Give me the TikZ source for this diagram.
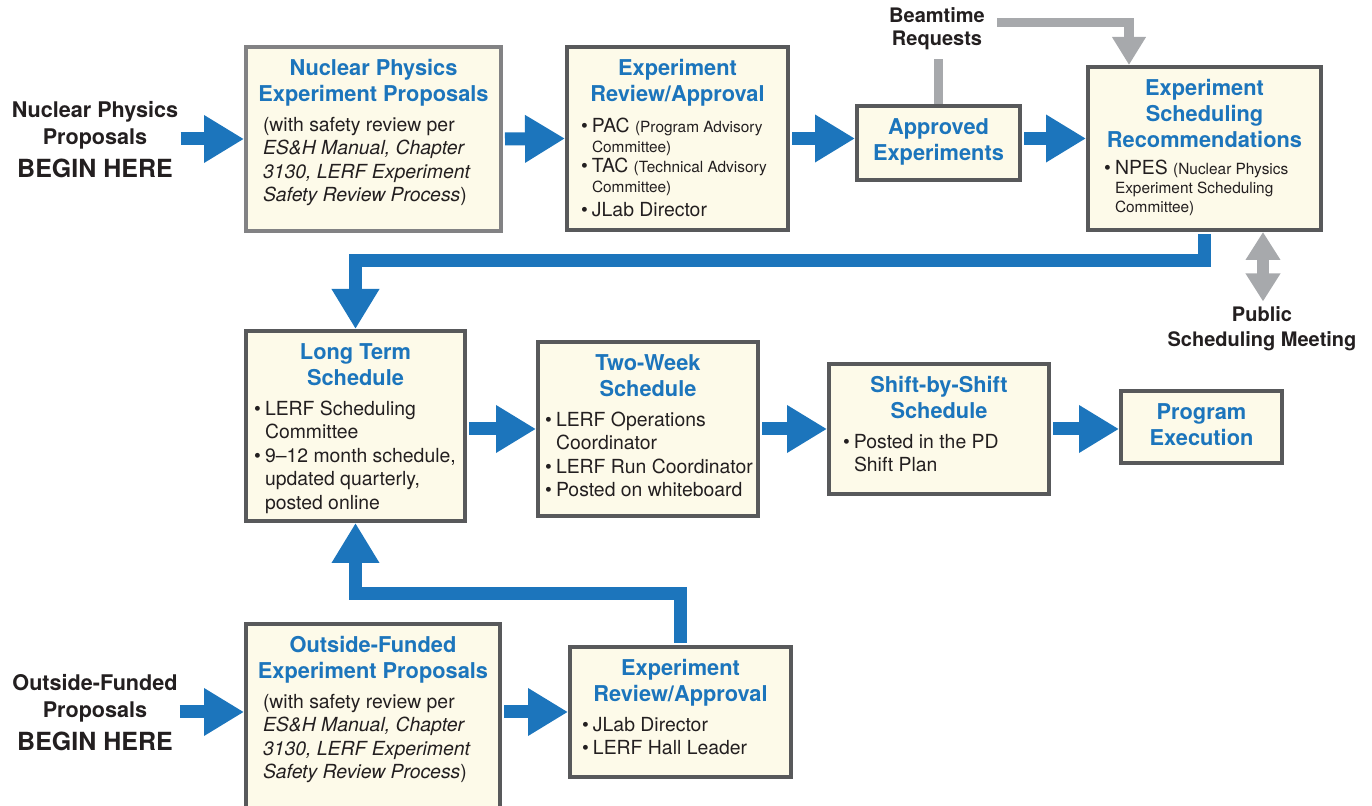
\documentclass[tikz,border=0pt]{standalone}
\usepackage{fontspec}
\setmainfont{TeX Gyre Heros}
\usetikzlibrary{arrows.meta,calc}
\definecolor{flowblue}{RGB}{28,117,188}
\definecolor{feedgray}{RGB}{167,169,172}
\definecolor{boxline}{RGB}{88,89,91}
\definecolor{boxlight}{RGB}{130,130,132}
\definecolor{cream}{RGB}{253,250,233}
\definecolor{labelink}{RGB}{35,31,32}
\tikzstyle{stage}=[draw=boxline,line width=2pt,fill=cream,inner sep=0pt,anchor=north west]
\tikzstyle{startlabel}=[align=center,font=\bfseries\fontsize{10.8}{13.5}\selectfont,text=labelink,inner sep=0pt]
\tikzstyle{feedlabel}=[align=center,font=\bfseries\fontsize{10}{11.5}\selectfont,text=labelink,inner sep=2.5pt]
\tikzstyle{flow}=[draw=flowblue,line width=6.5pt,-{Triangle[width=22.5pt,length=20pt]},line join=miter,shorten <=1pt]
\tikzstyle{feed}=[draw=feedgray,line width=4.75pt,line join=miter]
\tikzstyle{feedarrow}=[feed,-{Triangle[width=16pt,length=14pt]}]
\tikzstyle{bothways}=[draw=feedgray,line width=6pt,{Triangle[width=16.5pt,length=14pt]}-{Triangle[width=16.5pt,length=14pt]}]
% box contents: width, height, left pad, title, body
\newcommand{\stagetext}[5]{%
  \parbox[c][#2][t]{#1}{\centering\bfseries\fontsize{10.9}{13}\selectfont
    \leavevmode\color{flowblue}\rule{0pt}{14.5pt}#4\par\vspace{3pt}%
    \raggedright\leftskip=#3\relax\mdseries\fontsize{9.7}{11.75}\selectfont\color{labelink}#5\par}}
\newcommand{\itm}[1]{\par\hangindent=5.5pt\hangafter=1\noindent\makebox[5.5pt][l]{\textbullet}#1}
\newcommand{\smalltxt}[1]{{\fontsize{7.7}{9}\selectfont #1}}
\begin{document}
\begin{tikzpicture}[x=0.5pt,y=-0.5pt]
    \useasboundingbox (0,0) rectangle (1372,806);
    \clip (0,0) rectangle (1372,806);

    % top row
    \node[stage,draw=boxlight] (prop) at (244,45) {\stagetext{127.5pt}{92pt}{8.5pt}{Nuclear Physics\\Experiment Proposals}{(with safety review per\newline \textit{ES\&H Manual, Chapter\newline 3130, LERF Experiment\newline Safety Review Process})}};
    \node[stage] (review) at (565,45) {\stagetext{110.5pt}{91.5pt}{7pt}{Experiment\\Review/Approval}{\fontsize{9.7}{10}\selectfont\vspace{2.5pt}\itm{PAC \smalltxt{(Program Advisory}\newline\smalltxt{Committee)}}\itm{TAC \smalltxt{(Technical Advisory}\newline\smalltxt{Committee)}}\par\vspace{2pt}\itm{JLab Director}}};
    \node[stage] (approved) at (855,104) {\stagetext{81.5pt}{37pt}{0pt}{Approved\\Experiments}{}};
    \node[stage] (recom) at (1086,65) {\stagetext{116.5pt}{81.5pt}{8pt}{Experiment\\Scheduling\\Recommendations}{\fontsize{9.7}{9.5}\selectfont\vspace{1pt}\itm{NPES \smalltxt{(Nuclear Physics}\newline\smalltxt{Experiment Scheduling}\newline\smalltxt{Committee)}}}};

    % middle row
    \node[stage] (longterm) at (244,329) {\stagetext{109.5pt}{95pt}{4pt}{Long Term\\Schedule}{\itm{LERF Scheduling\newline Committee}\itm{9--12 month schedule,\newline updated quarterly,\newline posted online}}};
    \node[stage] (twoweek) at (536,340) {\stagetext{110pt}{87pt}{3.5pt}{Two-Week\\Schedule}{\itm{LERF Operations\newline Coordinator}\itm{LERF Run Coordinator}\itm{Posted on whiteboard}}};
    \node[stage] (shift) at (827,362) {\stagetext{110pt}{65pt}{7pt}{Shift-by-Shift\\Schedule}{\itm{Posted in the PD\newline Shift Plan}}};
    \node[stage] (exec) at (1119,389) {\stagetext{80.5pt}{36pt}{0pt}{Program\\Execution}{}};

    % bottom row
    \node[stage] (outprop) at (244,622) {\stagetext{127pt}{100pt}{8.5pt}{Outside-Funded\\Experiment Proposals}{(with safety review per\newline \textit{ES\&H Manual, Chapter\newline 3130, LERF Experiment\newline Safety Review Process})}};
    \node[stage] (outreview) at (568,645) {\stagetext{110.5pt}{65pt}{6pt}{Experiment\\Review/Approval}{\itm{JLab Director}\itm{LERF Hall Leader}}};

    % labels
    \node[startlabel] (npstart) at (95,140) {Nuclear Physics\\Proposals\\[3pt]{\fontsize{12.5}{15}\selectfont BEGIN HERE}};
    \node[startlabel] (ofstart) at (95,713) {Outside-Funded\\Proposals\\[3pt]{\fontsize{12.5}{15}\selectfont BEGIN HERE}};
    \node[feedlabel] (beam) at (937,29) {Beamtime\\Requests};
    \node[feedlabel,font=\bfseries\fontsize{10}{12.5}\selectfont] (public) at (1262,329) {Public\\Scheduling Meeting};

    % blue flow
    \draw[flow] (npstart.east |- prop.west) -- (prop.west);
    \draw[flow] (prop.east) -- (review.west);
    \draw[flow] (review.east) -- (review.east -| approved.west);
    \draw[flow] (approved.east |- review.east) -- (recom.west |- review.east);
    \draw[flow] (recom.south) |- ($(longterm.north)+(0,-68)$) -- (longterm.north);
    \draw[flow] (twoweek.west -| longterm.east) -- (twoweek.west);
    \draw[flow] (twoweek.east) -- (shift.west);
    \draw[flow] (shift.east) -- (shift.east -| exec.west);
    \draw[flow] (ofstart.east |- outreview.west) -- (outprop.west |- outreview.west);
    \draw[flow] (outprop.east |- outreview.west) -- (outreview.west);
    \draw[flow] (outreview.north) |- ($(longterm.south)+(0,71)$) -- (longterm.south);

    % gray feeds
    \draw[feed] (approved.north) -- ++(0,-45);
    \coordinate (beamfeed) at (997,22.5);
    \draw[feedarrow] (beamfeed) -| ($(recom.north west)+(43,0)$);
    \coordinate (pubtop) at ($(recom.south west)+(177,0)$);
    \draw[bothways] (pubtop) -- (pubtop |- public.north);

\end{tikzpicture}
\end{document}
